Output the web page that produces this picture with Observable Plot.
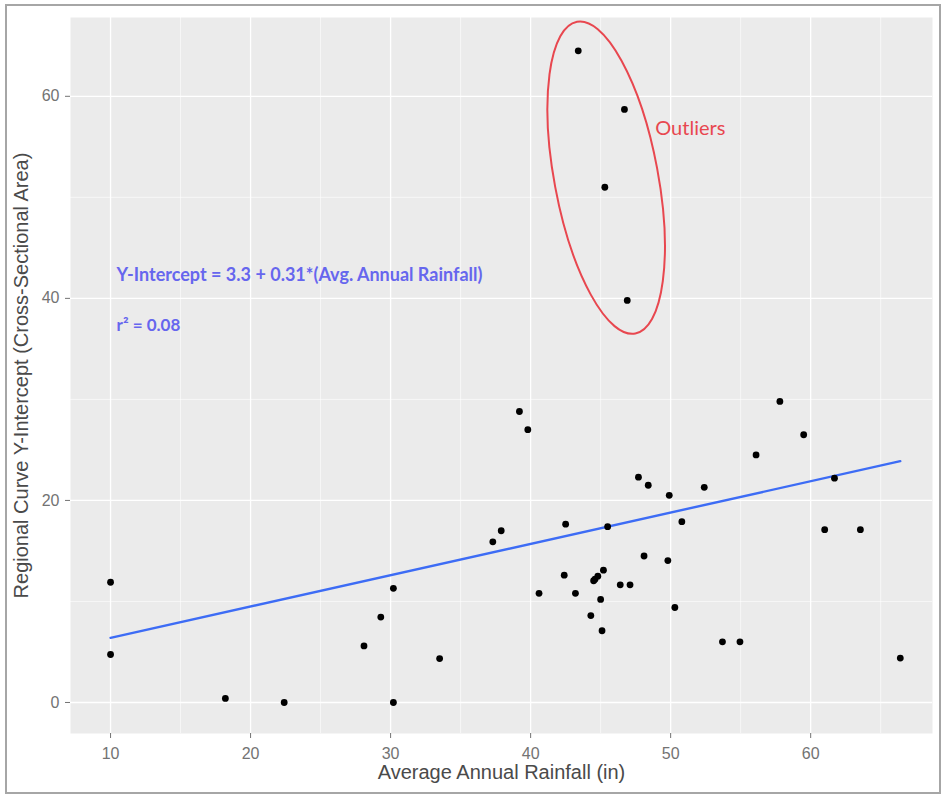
<!DOCTYPE html>
<html>
<head>
<meta charset="utf-8">
<script src="https://cdn.jsdelivr.net/npm/d3@7"></script>
<script src="https://cdn.jsdelivr.net/npm/@observablehq/plot@0.6"></script>
<style>
  html, body { margin: 0; padding: 0; background: white; }
  #chart { position: relative; width: 942px; height: 795px; }
  #chart .border {
    position: absolute; left: 5px; top: 4px; width: 932px; height: 786px;
    border: 2px solid #a6a6a6; pointer-events: none;
  }
</style>
</head>
<body>
<div id="chart"><div class="border"></div></div>
<script>
// Average annual rainfall (in) for each site
const rainfall = [
  10.0, 10.0, 18.2, 22.4, 30.2, 30.2, 29.3, 28.1, 33.5, 39.2, 39.8, 37.3,
  37.9, 40.6, 42.4, 42.5, 43.2, 44.3, 44.5, 44.6, 44.8, 45.2, 45.0, 45.1,
  45.5, 46.4, 47.1, 47.7, 48.4, 48.1, 49.8, 49.9, 50.3, 50.8, 52.4, 53.7,
  54.95, 56.1, 57.8, 59.5, 61.0, 61.7, 63.55, 66.4
];
// Regional curve y-intercept (cross-sectional area) for each site
const crossSection = [
  11.9, 4.75, 0.4, 0.0, 0.0, 11.3, 8.45, 5.6, 4.35, 28.8, 27.0, 15.9,
  17.0, 10.8, 12.6, 17.65, 10.8, 8.6, 12.05, 12.2, 12.5, 13.1, 10.2, 7.1,
  17.4, 11.65, 11.65, 22.3, 21.5, 14.5, 14.05, 20.5, 9.4, 17.9, 21.3, 6.0,
  6.0, 24.5, 29.8, 26.5, 17.1, 22.2, 17.1, 4.4
];
// Sites flagged as outliers
const outlierRainfall = [43.4, 46.7, 45.3, 46.9];
const outlierCrossSection = [64.5, 58.7, 51.0, 39.8];

// Fitted regression stated in the annotation
const fitIntercept = 3.3;
const fitSlope = 0.31;
const fitLabel = "Y-Intercept = 3.3 + 0.31*(Avg. Annual Rainfall)";
const r2Label = "r\u00B2 = 0.08";

// Axis ticks
const xTicks = [10, 20, 30, 40, 50, 60];
const xMinor = [15, 25, 35, 45, 55, 65];
const yTicks = [0, 20, 40, 60];
const yMinor = [10, 30, 50];

// Ring drawn around the outliers (data units, tilt in degrees)
const ringCenter = [45.43, 51.9];
const ringHalfWidth = 3.7;
const ringHalfHeight = 15.7;
const ringTilt = -10.6;

const sites = rainfall.map((x, i) => ({x, y: crossSection[i]}))
  .concat(outlierRainfall.map((x, i) => ({x, y: outlierCrossSection[i]})));

const xExtent = d3.extent(sites, d => d.x);
const fitLine = xExtent.map(x => ({x, y: fitIntercept + fitSlope * x}));

const blue = "#6666ee";
const red = "#e8474f";

function outlierRing(index, scales) {
  const cx = scales.x(ringCenter[0]);
  const cy = scales.y(ringCenter[1]);
  const rx = Math.abs(scales.x(ringCenter[0] + ringHalfWidth) - cx);
  const ry = Math.abs(scales.y(ringCenter[1] + ringHalfHeight) - cy);
  return d3.create("svg:ellipse")
    .attr("cx", cx).attr("cy", cy)
    .attr("rx", rx).attr("ry", ry)
    .attr("transform", `rotate(${ringTilt} ${cx} ${cy})`)
    .attr("fill", "none")
    .attr("stroke", red)
    .attr("stroke-width", 2)
    .node();
}

const chart = Plot.plot({
  width: 942,
  height: 795,
  marginLeft: 70,
  marginRight: 10,
  marginTop: 17,
  marginBottom: 62,
  style: {fontFamily: "'Liberation Sans', Arial, sans-serif", background: "transparent"},
  x: {domain: [7.14, 68.7]},
  y: {domain: [-3.07, 67.8]},
  marks: [
    Plot.frame({fill: "#ebebeb", stroke: null}),
    Plot.gridX(xMinor, {stroke: "white", strokeOpacity: 1, strokeWidth: 0.6}),
    Plot.gridY(yMinor, {stroke: "white", strokeOpacity: 1, strokeWidth: 0.6}),
    Plot.gridX(xTicks, {stroke: "white", strokeOpacity: 1, strokeWidth: 1.3}),
    Plot.gridY(yTicks, {stroke: "white", strokeOpacity: 1, strokeWidth: 1.3}),
    Plot.axisX(xTicks, {tickSize: 5, tickPadding: 9, fontSize: 16, color: "#737373", label: null}),
    Plot.axisY(yTicks, {tickSize: 5, tickPadding: 6, fontSize: 16, color: "#737373", label: null}),
    Plot.text(["Average Annual Rainfall (in)"], {
      frameAnchor: "bottom", textAnchor: "middle", dy: 45, fontSize: 20, fill: "#4a4a4a"
    }),
    Plot.text(["Regional Curve Y-Intercept (Cross-Sectional Area)"], {
      frameAnchor: "left", textAnchor: "middle", dx: -49, rotate: -90, fontSize: 20, fill: "#4a4a4a"
    }),
    Plot.line(fitLine, {x: "x", y: "y", stroke: "#3d6cf5", strokeWidth: 2.4}),
    Plot.dot(sites, {x: "x", y: "y", r: 3.4, fill: "black"}),
    Plot.text([fitLabel], {
      x: 10.43, y: 42.3, textAnchor: "start", fontSize: 18, fontWeight: "bold",
      fontFamily: "Lato, sans-serif", fill: blue
    }),
    Plot.text([r2Label], {
      x: 10.43, y: 37.3, textAnchor: "start", fontSize: 17, fontWeight: "bold",
      fontFamily: "Lato, sans-serif", fill: blue
    }),
    Plot.text(["Outliers"], {
      x: 48.9, y: 56.8, textAnchor: "start", fontSize: 20,
      fontFamily: "Lato, sans-serif", fill: red
    }),
    outlierRing
  ]
});

document.getElementById("chart").prepend(chart);
</script>
</body>
</html>
